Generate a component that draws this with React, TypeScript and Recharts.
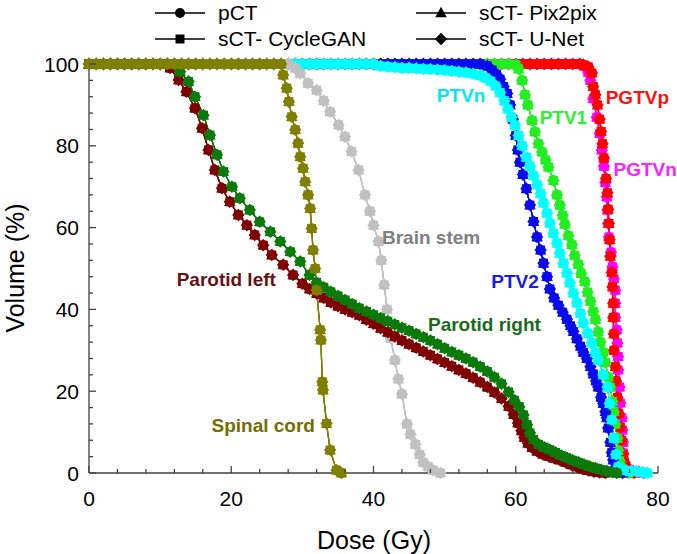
import React from 'react'
import { LineChart, Line, XAxis, YAxis, ReferenceDot } from 'recharts'

type Pt = [number, number]

const FONT = 'Arial, "Liberation Sans", sans-serif'
const AXIS = '#404040'

// DVH curves: [dose (Gy), volume (%)]
const pgtvn: Pt[] = [
  [0, 100], [1, 100], [2, 100], [3, 100], [4, 100], [5, 100], [6, 100], [7, 100], [8, 100], [9, 100],
  [10, 100], [11, 100], [12, 100], [13, 100], [14, 100], [15, 100], [16, 100], [17, 100], [18, 100], [19, 100],
  [20, 100], [21, 100], [22, 100], [23, 100], [24, 100], [25, 100], [26, 100], [27, 100], [28, 100], [29, 100],
  [30, 100], [31, 100], [32, 100], [33, 100], [34, 100], [35, 100], [36, 100], [37, 100], [38, 100], [39, 100],
  [40, 100], [41, 100], [42, 100], [43, 100], [44, 100], [45, 100], [46, 100], [47, 100], [48, 100], [49, 100],
  [50, 100], [51, 100], [52, 100], [53, 100], [54, 100], [55, 100], [56, 100], [57, 100], [58, 100], [59, 100],
  [60, 100], [61, 100], [62, 100], [63, 100], [64, 100], [65, 100], [66, 100], [67, 100], [68, 100], [69, 100],
  [69.6, 99.5], [70.2, 98], [70.5, 96], [70.9, 91.5], [71.4, 87], [71.8, 83], [72.1, 79], [72.4, 75],
  [72.6, 71], [72.8, 67.5], [72.9, 64.3], [73, 61], [73.1, 57.7], [73.4, 54], [73.6, 50.4], [73.8, 47.5],
  [74, 44.7], [74, 41.5], [74, 38.1], [74.2, 35], [74.3, 31.8], [74.4, 28.5], [74.4, 25.2], [74.6, 21],
  [74.7, 17.1], [74.9, 13.5], [75, 10.5], [75.1, 7.5], [75.1, 4.9], [75.3, 2.5], [75.7, 1], [76.5, 0.5],
  [77.3, 0.3], [78, 0],
]

const pgtvp: Pt[] = [
  [0, 100], [1, 100], [2, 100], [3, 100], [4, 100], [5, 100], [6, 100], [7, 100], [8, 100], [9, 100],
  [10, 100], [11, 100], [12, 100], [13, 100], [14, 100], [15, 100], [16, 100], [17, 100], [18, 100], [19, 100],
  [20, 100], [21, 100], [22, 100], [23, 100], [24, 100], [25, 100], [26, 100], [27, 100], [28, 100], [29, 100],
  [30, 100], [31, 100], [32, 100], [33, 100], [34, 100], [35, 100], [36, 100], [37, 100], [38, 100], [39, 100],
  [40, 100], [41, 100], [42, 100], [43, 100], [44, 100], [45, 100], [46, 100], [47, 100], [48, 100], [49, 100],
  [50, 100], [51, 100], [52, 100], [53, 100], [54, 100], [55, 100], [56, 100], [57, 100], [58, 100], [59, 100],
  [60, 100], [61, 100], [62, 100], [63, 100], [64, 100], [65, 100], [66, 100], [67, 100], [68, 100], [69, 100],
  [69.5, 99.8], [70.2, 99.3], [70.7, 97.8], [70.9, 94.5], [71.2, 92.5], [71.5, 90], [71.8, 86.5], [72, 83.5],
  [72.2, 80.5], [72.4, 77], [72.7, 72], [72.9, 68.5], [73, 64.5], [73.1, 61], [73.2, 57], [73.3, 53],
  [73.5, 49], [73.6, 45.5], [73.7, 41.5], [73.7, 38], [73.8, 34], [73.8, 30], [74, 26], [74.1, 22.5],
  [74.3, 18.5], [74.5, 14.5], [74.7, 11.2], [74.9, 8], [75.1, 4.5], [75.3, 2.5], [75.6, 1.2], [76, 0.5],
  [76.6, 0],
]

const ptv1: Pt[] = [
  [0, 100], [1, 100], [2, 100], [3, 100], [4, 100], [5, 100], [6, 100], [7, 100], [8, 100], [9, 100],
  [10, 100], [11, 100], [12, 100], [13, 100], [14, 100], [15, 100], [16, 100], [17, 100], [18, 100], [19, 100],
  [20, 100], [21, 100], [22, 100], [23, 100], [24, 100], [25, 100], [26, 100], [27, 100], [28, 100], [29, 100],
  [30, 100], [31, 100], [32, 100], [33, 100], [34, 100], [35, 100], [36, 100], [37, 100], [38, 100], [39, 100],
  [40, 100], [41, 100], [42, 100], [43, 100], [44, 100], [45, 100], [46, 100], [47, 100], [48, 100], [49, 100],
  [50, 100], [51, 100], [52, 100], [53, 100], [54, 100], [55, 100], [56, 100], [57, 100], [58, 100], [59, 100],
  [60, 99.8], [60.4, 98.8], [60.9, 96], [61.3, 92.5], [61.7, 90], [62.3, 86.2], [62.7, 83.4], [63.2, 80.5],
  [63.7, 78.5], [64.2, 76.5], [64.6, 74.8], [65.3, 71.5], [65.8, 68], [66.2, 65.5], [66.6, 63], [66.9, 60.8],
  [67.4, 58], [67.9, 55.8], [68.3, 53.2], [68.8, 51], [69.2, 48.8], [69.7, 46.8], [70.1, 44.2], [70.5, 42],
  [70.9, 39.5], [71.2, 37.5], [71.6, 34.5], [71.9, 32], [72.3, 29.5], [72.6, 27], [73, 23.5], [73.3, 21],
  [73.6, 17.5], [73.8, 15], [74, 12], [74.3, 8.5], [74.4, 5.5], [74.6, 3], [74.8, 1.5], [75.2, 0.5],
  [75.8, 0],
]

const ptv2: Pt[] = [
  [0, 100], [1, 100], [2, 100], [3, 100], [4, 100], [5, 100], [6, 100], [7, 100], [8, 100], [9, 100],
  [10, 100], [11, 100], [12, 100], [13, 100], [14, 100], [15, 100], [16, 100], [17, 100], [18, 100], [19, 100],
  [20, 100], [21, 100], [22, 100], [23, 100], [24, 100], [25, 100], [26, 100], [27, 100], [28, 100], [29, 100],
  [30, 100], [31, 100], [32, 100], [33, 100], [34, 100], [35, 100], [36, 100], [37, 100], [38, 100], [39, 100],
  [40, 100], [41, 100], [42, 100], [43, 100], [44, 100], [45, 100], [46, 100], [47, 100], [48, 100], [49, 100],
  [50, 100], [51, 100], [52, 100], [53, 100], [54, 100], [55, 100],
  [56, 99.5], [56.7, 98.5], [57.3, 97.5], [57.8, 96.3], [58.3, 94.5], [58.8, 92.8], [59.2, 90], [59.6, 86.5],
  [60, 82.5], [60.3, 79], [60.6, 76], [61, 73], [61.5, 69.5], [62, 65.5], [62.5, 61.5], [63, 57.7],
  [63.5, 54.5], [63.9, 51.3], [64.4, 48], [64.8, 45], [65.4, 42.8], [66, 41], [66.6, 39.3], [67.2, 37.6],
  [67.7, 36], [68.1, 34.6], [68.6, 32.8], [69.1, 31], [69.5, 29.5], [70, 28], [70.5, 26], [70.9, 24.2],
  [71.3, 22.5], [71.6, 21], [72, 18.5], [72.3, 17], [72.6, 15], [72.8, 13.5], [73, 11], [73.3, 7.5],
  [73.5, 5], [73.7, 3.2], [74, 1.2], [74.5, 0.3], [75, 0],
]

const ptvn: Pt[] = [
  [0, 100], [1, 100], [2, 100], [3, 100], [4, 100], [5, 100], [6, 100], [7, 100], [8, 100], [9, 100],
  [10, 100], [11, 100], [12, 100], [13, 100], [14, 100], [15, 100], [16, 100], [17, 100], [18, 100], [19, 100],
  [20, 100], [21, 100], [22, 100], [23, 100], [24, 100], [25, 100], [26, 100], [27, 100], [28, 100], [29, 100],
  [30, 100], [31, 100], [32, 100], [33, 100], [34, 100], [35, 100], [36, 100], [37, 100], [38, 100], [39, 100],
  [40, 100], [41, 99.5], [42, 99.3], [43, 99.2], [44, 99], [45, 99], [46, 98.9], [47, 98.8], [48, 98.7], [49, 98.6],
  [50, 98.5], [51, 98.3], [52, 98.1], [53, 97.9], [54, 97.6], [55, 97.2], [55.8, 96.6], [56.5, 95.8],
  [57.2, 94.6], [57.8, 93], [58.4, 91], [58.9, 89], [59.4, 87], [59.9, 85], [60.4, 82.5], [60.9, 80],
  [61.5, 77.2], [62, 75], [62.5, 72.7], [63, 70.5], [63.5, 68.3], [63.9, 66], [64.4, 63.5], [64.8, 61.1],
  [65.3, 58.6], [65.8, 56.2], [66.2, 53.7], [66.7, 51.3], [67.2, 48.9], [67.6, 46.5], [68.1, 44], [68.6, 41.6],
  [69.1, 39], [69.5, 36.7], [70.1, 34.2], [70.7, 31.8], [71.2, 29.4], [71.6, 27.6], [72.3, 24], [72.9, 21],
  [73.2, 17], [73.5, 13], [73.8, 8.5], [74.1, 4.5], [74.4, 1.5], [74.8, 0.8], [75.5, 0.6], [76.2, 0.5],
  [77, 0.4], [77.8, 0.2], [78.5, 0],
]

const brainStem: Pt[] = [
  [0, 100], [1, 100], [2, 100], [3, 100], [4, 100], [5, 100], [6, 100], [7, 100], [8, 100], [9, 100],
  [10, 100], [11, 100], [12, 100], [13, 100], [14, 100], [15, 100], [16, 100], [17, 100], [18, 100], [19, 100],
  [20, 100], [21, 100], [22, 100], [23, 100], [24, 100], [25, 100], [26, 100], [27, 100], [28, 100],
  [29, 99], [29.7, 97.7], [30.8, 95.3], [32, 93.6], [33, 91], [33.9, 88.3], [35.1, 85.1], [36, 82.2],
  [36.9, 78.6], [37.9, 74.1], [38.8, 68], [39.5, 64], [40, 60.6], [40.7, 56.6], [41.1, 52], [41.5, 46],
  [41.9, 40], [42.4, 33], [43, 27.6], [43.5, 23], [44, 19.3], [44.7, 12], [45.2, 9.5], [45.9, 7],
  [46.5, 4.5], [47, 2.6], [47.7, 1.5], [48.4, 0.7], [49.4, 0],
]

const parotidLeft: Pt[] = [
  [0, 100], [1, 100], [2, 100], [3, 100], [4, 100], [5, 100], [6, 100], [7, 100], [8, 100], [9, 100],
  [10, 100], [11, 100],
  [11.4, 99], [12.6, 96.1], [13.7, 93.2], [14.9, 89.2], [15.9, 84.3], [16.8, 79], [17.7, 74.1], [18.7, 69.6],
  [19.8, 66.3], [21, 63.1], [22.2, 60.6], [23.3, 58.2], [24.5, 55.7], [25.7, 53.3], [27.3, 50.9], [28.7, 48.4],
  [30, 46.3], [31, 45], [32, 43.9], [33, 42.8], [34, 41.7], [35, 40.8], [36, 40], [37, 39.3],
  [38, 38.6], [39, 37.5], [40, 36.5], [41, 35.4], [42, 34.4], [43, 33.4], [44, 32.4], [45, 31.5],
  [46, 30.6], [47, 29.7], [48, 28.8], [49, 27.9], [50, 27], [51, 26.1], [52, 25.2], [53, 24.3],
  [54, 23.3], [55, 22.2], [56, 21], [57, 19.7], [58, 18.2], [59, 16.3], [59.7, 14.3], [60.3, 12.2],
  [60.8, 10.3], [61.2, 8.7], [61.7, 7.3], [62.3, 6.2], [63, 5.3], [63.8, 4.6], [64.6, 4.1], [65.4, 3.6],
  [66.2, 3.2], [67, 2.6], [67.8, 2], [68.6, 1.5], [69.4, 1], [70.2, 0.6], [71, 0.3], [71.8, 0.1],
  [72.6, 0],
]

const parotidRight: Pt[] = [
  [0, 100], [1, 100], [2, 100], [3, 100], [4, 100], [5, 100], [6, 100], [7, 100], [8, 100], [9, 100],
  [10, 100], [11, 100], [12, 100],
  [12.8, 98.1], [14, 95.7], [14.9, 92], [16.1, 87.5], [17, 82.6], [18, 77.8], [18.9, 73.7], [20.1, 70],
  [21.2, 67.2], [22.6, 64.3], [24, 61.4], [25.5, 59], [26.9, 56.6], [28.3, 54.1], [29.7, 51.7], [31, 48.4],
  [32, 46.6], [33, 45.4], [34, 44.3], [35, 43.3], [36, 42.3], [37, 41.3], [38, 40.3], [39, 39.5],
  [40, 38.7], [41, 37.9], [42, 37.1], [43, 36.3], [44, 35.5], [45, 34.8], [46, 34], [47, 33.2],
  [48, 32.4], [49, 31.5], [50, 30.5], [51, 29.6], [52, 28.8], [53, 28], [54, 27.1], [55, 26],
  [56, 24.8], [57, 23.4], [58, 21.8], [59, 19.8], [59.8, 17.8], [60.5, 16.2], [61.1, 14.2], [61.6, 11.8],
  [62, 9.8], [62.5, 8.2], [63.2, 7], [64, 6.3], [64.8, 5.7], [65.6, 5], [66.4, 4.3], [67.2, 3.7],
  [68, 3.1], [68.8, 2.6], [69.6, 2.1], [70.4, 1.6], [71.2, 1.2], [72, 0.8], [72.8, 0.5], [73.6, 0.2],
  [74.2, 0],
]

const spinalCord: Pt[] = [
  [0, 100], [1, 100], [2, 100], [3, 100], [4, 100], [5, 100], [6, 100], [7, 100], [8, 100], [9, 100],
  [10, 100], [11, 100], [12, 100], [13, 100], [14, 100], [15, 100], [16, 100], [17, 100], [18, 100], [19, 100],
  [20, 100], [21, 100], [22, 100], [23, 100], [24, 100], [25, 100], [26, 100], [27, 100],
  [27.3, 97.3], [27.8, 94.1], [28.1, 90.8], [28.5, 87.1], [29, 83.9], [29.4, 80.6], [29.7, 77.3], [30.1, 74.5],
  [30.4, 71.2], [30.8, 68], [31.1, 64.7], [31.3, 59.8], [31.5, 54.5], [31.8, 50], [32, 44.7], [32.5, 35],
  [32.6, 32.5], [32.8, 22.3], [32.9, 20.3], [33.4, 12.1], [33.9, 5.6], [34.8, 0.7], [35.5, 0],
]

// drawing order: first is at the bottom
const structures = [
  { name: 'PGTVn', color: '#ff00ff', points: pgtvn },
  { name: 'PGTVp', color: '#ff0000', points: pgtvp },
  { name: 'PTV1', color: '#22ee22', points: ptv1 },
  { name: 'PTV2', color: '#0a0aee', points: ptv2 },
  { name: 'PTVn', color: '#00ffff', points: ptvn },
  { name: 'Brain stem', color: '#c0c0c0', points: brainStem },
  { name: 'Parotid left', color: '#800000', points: parotidLeft },
  { name: 'Parotid right', color: '#0a7a0a', points: parotidRight },
  { name: 'Spinal cord', color: '#808000', points: spinalCord },
]

const methods = [
  { name: 'pCT', shape: 'circle' },
  { name: 'sCT- CycleGAN', shape: 'square' },
  { name: 'sCT- Pix2pix', shape: 'triangle' },
  { name: 'sCT- U-Net', shape: 'diamond' },
]

const xTicks = [0, 4, 8, 12, 16, 20, 24, 28, 32, 36, 40, 44, 48, 52, 56, 60, 64, 68, 72, 76, 80]
const yTicks = [0, 4, 8, 12, 16, 20, 24, 28, 32, 36, 40, 44, 48, 52, 56, 60, 64, 68, 72, 76, 80, 84, 88, 92, 96, 100]

// structure name tags, placed at (dose, volume)
const tags = [
  { text: 'Parotid left', d: 19.3, v: 47.4, color: '#6b1010' },
  { text: 'Spinal cord', d: 24.5, v: 11.5, color: '#6f6f00' },
  { text: 'Brain stem', d: 48.1, v: 57.5, color: '#808080' },
  { text: 'Parotid right', d: 55.6, v: 36.2, color: '#1a6b1a' },
  { text: 'PTV2', d: 59.9, v: 46.9, color: '#1a1ae0' },
  { text: 'PTVn', d: 52.3, v: 92.4, color: '#00e8f8' },
  { text: 'PTV1', d: 66.7, v: 87, color: '#33ee33' },
  { text: 'PGTVp', d: 77.1, v: 91.9, color: '#ff1010' },
  { text: 'PGTVn', d: 78.2, v: 74.3, color: '#ff20ff' },
]

function Marker({ cx, cy, shape, color, size = 10 }: any) {
  const h = size / 2
  if (shape === 'circle') return <circle cx={cx} cy={cy} r={h} fill={color} />
  if (shape === 'square') return <rect x={cx - h * 0.9} y={cy - h * 0.9} width={size * 0.9} height={size * 0.9} fill={color} />
  if (shape === 'triangle') {
    return <polygon points={`${cx},${cy - h * 1.25} ${cx + h * 1.15},${cy + h * 0.85} ${cx - h * 1.15},${cy + h * 0.85}`} fill={color} />
  }
  return <polygon points={`${cx},${cy - h * 1.25} ${cx + h * 1.25},${cy} ${cx},${cy + h * 1.25} ${cx - h * 1.25},${cy}`} fill={color} />
}

const tickText = { fontFamily: FONT, fontSize: 21, fill: '#000' }

function BottomTick({ x, y, payload }: any) {
  const major = payload.value % 20 === 0
  return (
    <g>
      <line x1={x} x2={x} y1={y} y2={y - (major ? 7 : 4)} stroke={AXIS} strokeWidth={1.3} />
      {major && <text x={x} y={y + 25} textAnchor="middle" dominantBaseline="central" {...tickText}>{payload.value}</text>}
    </g>
  )
}

function TopTick({ x, y, payload }: any) {
  const major = payload.value % 20 === 0
  return <line x1={x} x2={x} y1={y} y2={y + (major ? 7 : 4)} stroke={AXIS} strokeWidth={1.3} />
}

function LeftTick({ x, y, payload }: any) {
  const major = payload.value % 20 === 0
  return (
    <g>
      <line x1={x} x2={x + (major ? 7 : 4)} y1={y} y2={y} stroke={AXIS} strokeWidth={1.3} />
      {major && <text x={x - 10} y={y} textAnchor="end" dominantBaseline="central" {...tickText}>{payload.value}</text>}
    </g>
  )
}

function RightTick({ x, y, payload }: any) {
  const major = payload.value % 20 === 0
  return <line x1={x} x2={x - (major ? 7 : 4)} y1={y} y2={y} stroke={AXIS} strokeWidth={1.3} />
}

function Tag(props: any) {
  const { viewBox, text, color } = props
  const cx = viewBox.x + viewBox.width / 2
  const cy = viewBox.y + viewBox.height / 2
  return (
    <text x={cx} y={cy} textAnchor="middle" dominantBaseline="central" fill={color}
      fontFamily={FONT} fontSize={19} fontWeight="bold">{text}</text>
  )
}

function LegendItem({ left, top, name, shape }: any) {
  return (
    <div style={{ position: 'absolute', left, top, display: 'flex', alignItems: 'center', height: 24 }}>
      <svg width={52} height={20}>
        <line x1={1} x2={51} y1={10} y2={10} stroke="#000" strokeWidth={1.5} />
        <Marker cx={26} cy={10} shape={shape} color="#000" size={10} />
      </svg>
      <span style={{ marginLeft: 12, fontFamily: FONT, fontSize: 21, color: '#000', whiteSpace: 'nowrap' }}>{name}</span>
    </div>
  )
}

export default function App() {
  return (
    <div style={{ position: 'absolute', left: 0, top: 0, width: 677, height: 554, background: '#fff' }}>
      <LineChart width={677} height={554} margin={{ top: 64, right: 19, bottom: 51, left: 9 }}>
        <XAxis xAxisId="b" type="number" dataKey="d" domain={[0, 80]} ticks={xTicks} interval={0}
          height={30} tickSize={0} tickMargin={0} tickLine={false}
          axisLine={{ stroke: AXIS, strokeWidth: 1.3 }} tick={<BottomTick />} />
        <XAxis xAxisId="t" orientation="top" type="number" domain={[0, 80]} ticks={xTicks} interval={0}
          height={0} tickSize={0} tickMargin={0} tickLine={false}
          axisLine={{ stroke: AXIS, strokeWidth: 1.3 }} tick={<TopTick />} />
        <YAxis yAxisId="l" type="number" dataKey="v" domain={[0, 100]} ticks={yTicks} interval={0}
          width={80} tickSize={0} tickMargin={0} tickLine={false}
          axisLine={{ stroke: AXIS, strokeWidth: 1.3 }} tick={<LeftTick />} />
        <YAxis yAxisId="r" orientation="right" type="number" domain={[0, 100]} ticks={yTicks} interval={0}
          width={0} tickSize={0} tickMargin={0} tickLine={false}
          axisLine={{ stroke: AXIS, strokeWidth: 1.3 }} tick={<RightTick />} />
        {structures.flatMap((s) =>
          methods.map((m) => (
            <Line
              key={`${s.name}-${m.name}`}
              xAxisId="b"
              yAxisId="l"
              data={s.points.map(([d, v]) => ({ d, v }))}
              dataKey="v"
              stroke={s.color}
              strokeWidth={1.2}
              isAnimationActive={false}
              activeDot={false}
              dot={(p: any) => <Marker key={p.index} cx={p.cx} cy={p.cy} shape={m.shape} color={s.color} />}
            />
          ))
        )}
        {tags.map((t) => (
          <ReferenceDot key={t.text} xAxisId="b" yAxisId="l" x={t.d} y={t.v} r={0} fill="none" stroke="none"
            label={<Tag text={t.text} color={t.color} />} />
        ))}
      </LineChart>

      <LegendItem left={154} top={1} name={methods[0].name} shape={methods[0].shape} />
      <LegendItem left={154} top={27} name={methods[1].name} shape={methods[1].shape} />
      <LegendItem left={415} top={1} name={methods[2].name} shape={methods[2].shape} />
      <LegendItem left={415} top={27} name={methods[3].name} shape={methods[3].shape} />

      <div style={{ position: 'absolute', left: 374, top: 540, transform: 'translate(-50%, -50%)', fontFamily: FONT, fontSize: 25, whiteSpace: 'nowrap' }}>
        Dose (Gy)
      </div>
      <div style={{ position: 'absolute', left: 15, top: 268, transform: 'translate(-50%, -50%) rotate(-90deg)', fontFamily: FONT, fontSize: 25, whiteSpace: 'nowrap' }}>
        Volume (%)
      </div>
    </div>
  )
}
